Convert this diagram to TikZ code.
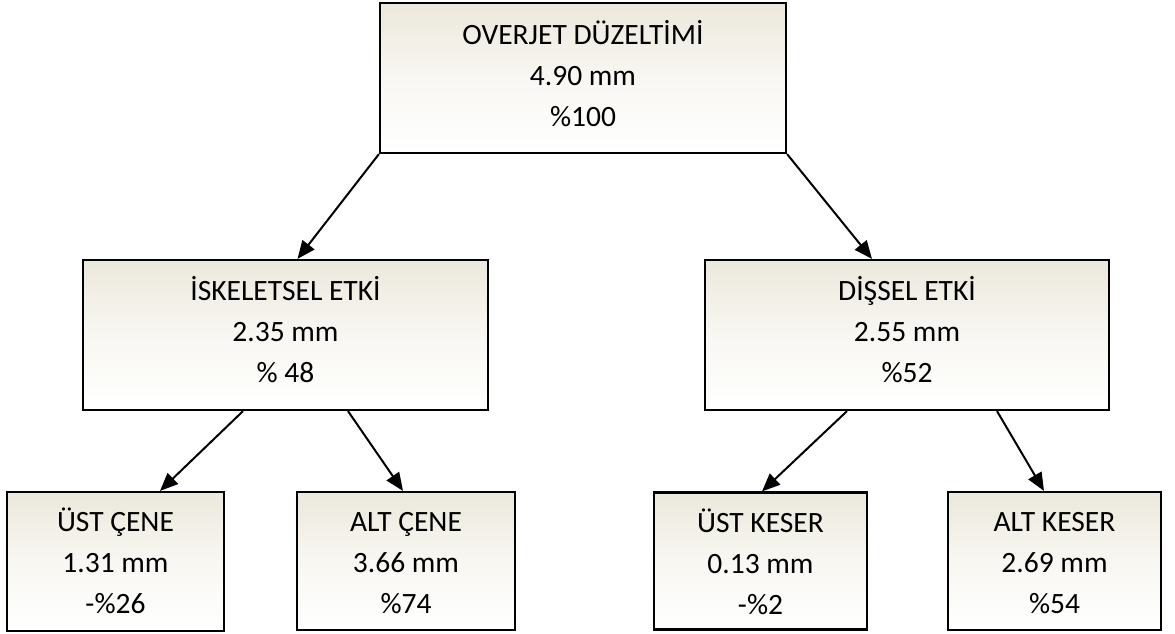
\documentclass[tikz,border=0pt]{standalone}
\usepackage{fontspec}
\setmainfont{Carlito}
\usetikzlibrary{arrows.meta,shapes.geometric}
\definecolor{boxtop}{RGB}{235,232,220}
\definecolor{boxmid}{RGB}{248,247,242}
\tikzset{
  box/.style={draw=black, line width=2.2pt, rectangle,
    top color=boxtop, bottom color=white, middle color=boxmid,
    inner sep=0pt},
  lbl/.style={align=center, inner sep=0pt, anchor=base,
    font=\fontsize{29.5}{41}\selectfont},
  arr/.style={line width=2pt, -{Triangle[length=18pt,width=15pt]}}
}
\newcommand{\mylines}[3]{\fontsize{29.5}{41}\selectfont #1\\#2\\#3}
\begin{document}
\begin{tikzpicture}[x=1pt,y=-1pt]
\useasboundingbox (0,0) rectangle (1175,634);
\node[box, minimum width=406, minimum height=150] (top) at (583,78) {};
\node[box, minimum width=405, minimum height=150] (isk) at (285.5,335) {};
\node[box, minimum width=404, minimum height=150] (dis) at (907,335) {};
\node[box, minimum width=217, minimum height=139] (uc) at (115.5,561.5) {};
\node[box, minimum width=218, minimum height=138] (ac) at (406,561) {};
\node[box, minimum width=213, minimum height=137] (uk) at (760.5,561) {};
\node[box, minimum width=213, minimum height=138] (ak) at (1054.5,561) {};
\node[lbl] (ttop) at ([yshift=-125pt]top.north) {\mylines{OVERJET DÜZELTİMİ}{4.90 mm}{\%100}};
\node[lbl] (tisk) at ([yshift=-124pt]isk.north) {\mylines{İSKELETSEL ETKİ}{2.35 mm}{\% 48}};
\node[lbl] (tdis) at ([yshift=-124pt]dis.north) {\mylines{DİŞSEL ETKİ}{2.55 mm}{\%52}};
\node[lbl] (tuc) at ([yshift=-123pt]uc.north) {\mylines{ÜST ÇENE}{1.31 mm}{-\%26}};
\node[lbl] (tac) at ([yshift=-123pt]ac.north) {\mylines{ALT ÇENE}{3.66 mm}{\%74}};
\node[lbl] (tuk) at ([yshift=-123pt]uk.north) {\mylines{ÜST KESER}{0.13 mm}{-\%2}};
\node[lbl] (tak) at ([yshift=-123pt]ak.north) {\mylines{ALT KESER}{2.69 mm}{\%54}};
\draw[arr] (top.south west) -- ([xshift=12pt]isk.north);
\draw[arr] (top.south east) -- ([xshift=-35pt]dis.north);
\draw[arr] ([xshift=-42.5pt]isk.south) -- ([xshift=44.5pt]uc.north);
\draw[arr] ([xshift=62.5pt]isk.south) -- ([xshift=-3pt]ac.north);
\draw[arr] ([xshift=-60pt]dis.south) -- ([xshift=1.5pt]uk.north);
\draw[arr] ([xshift=90pt]dis.south) -- ([xshift=-10.5pt]ak.north);
\end{tikzpicture}
\end{document}
